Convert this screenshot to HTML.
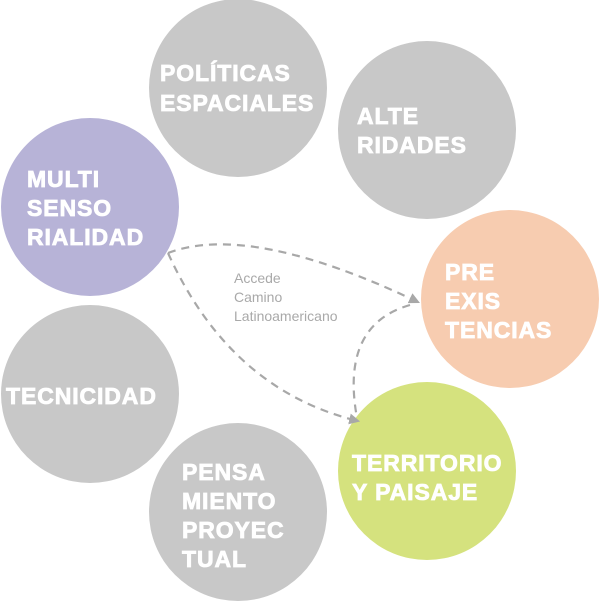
<!DOCTYPE html>
<html><head><meta charset="utf-8"><style>
html,body{margin:0;padding:0;background:#fff;}
svg{display:block}
.t{font-family:"Liberation Sans",sans-serif;font-weight:bold;font-size:23px;fill:#fff;stroke:#fff;stroke-width:0.8;letter-spacing:0.9px}
.s{font-family:"Liberation Sans",sans-serif;font-size:14px;fill:#a9a9a9}
</style></head><body>
<svg width="600" height="612" viewBox="0 0 600 612">
<defs><marker id="a" viewBox="0 0 10 10" refX="8" refY="5" markerWidth="5" markerHeight="5" orient="auto"><path d="M0,0 L10,5 L0,10 z" fill="#a8a8a8"/></marker></defs>
<circle cx="238" cy="88" r="89" fill="#c8c8c8"/>
<circle cx="427" cy="130" r="89" fill="#c8c8c8"/>
<circle cx="90" cy="207" r="89" fill="#b7b3d7"/>
<circle cx="510" cy="299" r="89" fill="#f7ccb0"/>
<circle cx="90" cy="394" r="89" fill="#c8c8c8"/>
<circle cx="427" cy="471" r="89" fill="#d5e27e"/>
<circle cx="238" cy="512" r="89" fill="#c8c8c8"/>
<g fill="none" stroke="#a8a8a8" stroke-width="2.2" stroke-dasharray="8 6">
<path d="M168,253 Q250,222 418,302" marker-end="url(#a)"/>
<path d="M168,253 Q230,390 358,421" marker-end="url(#a)"/>
<path d="M410,305 Q340,325 357,418"/>
</g>
<text class="s" x="234" y="283">Accede</text>
<text class="s" x="234" y="302">Camino</text>
<text class="s" x="234" y="321">Latinoamericano</text>
<text class="t" x="160" y="81">POLÍTICAS</text>
<text class="t" x="160" y="111">ESPACIALES</text>
<text class="t" x="357" y="124">ALTE</text>
<text class="t" x="357" y="153">RIDADES</text>
<text class="t" x="27" y="187">MULTI</text>
<text class="t" x="27" y="216">SENSO</text>
<text class="t" x="27" y="245">RIALIDAD</text>
<text class="t" x="445" y="280">PRE</text>
<text class="t" x="445" y="309">EXIS</text>
<text class="t" x="445" y="338">TENCIAS</text>
<text class="t" x="6" y="404">TECNICIDAD</text>
<text class="t" x="352" y="471">TERRITORIO</text>
<text class="t" x="352" y="500">Y PAISAJE</text>
<text class="t" x="182" y="480">PENSA</text>
<text class="t" x="182" y="509">MIENTO</text>
<text class="t" x="182" y="538">PROYEC</text>
<text class="t" x="182" y="567">TUAL</text>
</svg>
</body></html>
